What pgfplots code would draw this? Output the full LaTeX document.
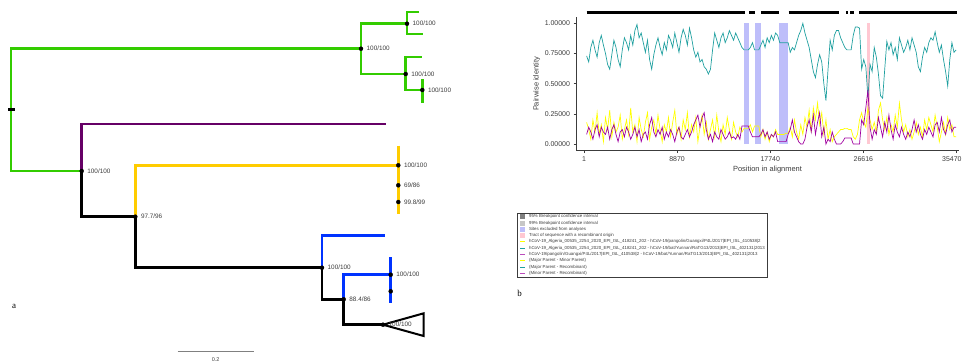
\documentclass[border=0pt]{standalone}
\usepackage{fontspec}
\setmainfont{Liberation Sans}
\newfontfamily\seriffont{Liberation Serif}
\usepackage{pgfplots}
\pgfplotsset{compat=1.18}
\usepackage{pgfplotstable}

\definecolor{tgreen}{RGB}{51,204,0}
\definecolor{tpurple}{RGB}{102,0,102}
\definecolor{tyellow}{RGB}{255,204,0}
\definecolor{tblue}{RGB}{0,51,255}
\definecolor{rteal}{RGB}{32,160,160}
\definecolor{ryellow}{RGB}{255,255,0}
\definecolor{rpurple}{RGB}{160,0,160}
\definecolor{rlav}{RGB}{190,190,250}
\definecolor{rpink}{RGB}{255,200,210}
\definecolor{txt}{RGB}{60,60,60}

\pgfplotstableread{
x t y p
250 0.73 0.18 0.08
450 0.68 0.12 0.14
650 0.80 0.04 0.10
850 0.86 0.20 0.04
1050 0.78 0.10 0.12
1250 0.72 0.26 0.16
1450 0.84 0.08 0.06
1650 0.90 0.16 0.14
1850 0.82 0.02 0.10
2050 0.75 0.22 0.08
2250 0.66 0.12 0.14
2450 0.62 0.28 0.04
2650 0.74 0.06 0.12
2850 0.86 0.18 0.16
3050 0.80 0.10 0.08
3250 0.70 0.14 0.02
3450 0.64 0.24 0.10
3650 0.78 0.04 0.12
3850 0.88 0.12 0.06
4050 0.84 0.20 0.14
4250 0.78 0.08 0.10
4450 0.90 0.30 0.04
4650 0.82 0.10 0.08
4850 0.94 0.16 0.14
5050 0.99 0.02 0.06
5250 0.88 0.22 0.12
5450 0.92 0.12 0.02
5650 0.84 0.06 0.08
5850 0.76 0.18 0.10
6050 0.86 0.26 0.04
6250 0.70 0.04 0.16
6450 0.62 0.14 0.22
6650 0.74 0.20 0.10
6850 0.82 0.08 0.06
7050 0.88 0.24 0.12
7250 0.80 0.12 0.08
7450 0.74 0.02 0.14
7650 0.84 0.16 0.04
7850 0.78 0.10 0.10
8050 0.90 0.22 0.06
8250 0.86 0.06 0.12
8450 0.80 0.18 0.08
8650 0.92 0.28 0.02
8850 0.84 0.08 0.10
9050 0.76 0.14 0.14
9250 0.88 0.04 0.06
9450 0.95 0.20 0.04
9650 0.90 0.12 0.08
9850 0.82 0.26 0.12
10050 0.96 0.06 0.06
10250 0.88 0.16 0.10
10450 0.78 0.10 0.16
10650 0.72 0.22 0.20
10850 0.76 0.02 0.24
11050 0.68 0.14 0.14
11250 0.70 0.24 0.22
11450 0.64 0.08 0.26
11650 0.62 0.18 0.12
11850 0.58 0.04 0.04
12050 0.62 0.12 0.08
12250 0.78 0.20 0.02
12450 0.92 0.06 0.10
12650 0.86 0.24 0.06
12850 0.80 0.10 0.04
13050 0.88 0.02 0.12
13250 0.92 0.16 0.08
13450 0.84 0.08 0.04
13650 0.88 0.22 0.06
13850 0.94 0.12 0.10
14050 0.90 0.04 0.05
14250 0.86 0.18 0.06
14450 0.92 0.10 0.04
14650 0.88 0.06 0.08
14850 0.84 0.14 0.04
15050 0.80 0.10 0.15
15250 0.78 0.13 0.15
15450 0.78 0.13 0.15
15650 0.78 0.13 0.15
15850 0.80 0.16 0.10
16050 0.84 0.10 0.06
16250 0.78 0.15 0.06
16450 0.78 0.15 0.06
16650 0.78 0.15 0.06
16850 0.82 0.06 0.08
17050 0.86 0.12 0.12
17250 0.80 0.04 0.06
17450 0.88 0.10 0.10
17650 0.84 0.02 0.04
17850 0.90 0.08 0.08
18050 0.86 0.06 0.06
18250 0.92 0.12 0.10
18450 0.90 0.08 0.02
18650 0.84 0.08 0.02
18850 0.84 0.08 0.02
19050 0.84 0.08 0.02
19250 0.84 0.09 0.02
19450 0.84 0.09 0.08
19650 0.76 0.14 0.12
19850 0.80 0.06 0.20
20050 0.78 0.20 0.10
20250 0.84 0.10 0.06
20450 0.90 0.04 0.02
20650 0.94 0.16 0.00
20850 1.00 0.08 0.00
21050 0.92 0.22 0.04
21250 0.86 0.14 0.14
21450 0.80 0.28 0.20
21650 0.70 0.10 0.10
21850 0.60 0.30 0.24
22050 0.55 0.20 0.08
22250 0.66 0.34 0.18
22450 0.74 0.16 0.26
22650 0.68 0.26 0.06
22850 0.50 0.08 0.14
23050 0.36 0.20 0.00
23250 0.62 0.04 0.04
23450 0.86 0.12 0.02
23650 0.78 0.02 0.10
23850 0.90 0.06 0.04
24050 0.94 0.08 0.00
24250 0.94 0.10 0.00
24450 0.88 0.12 0.00
24650 0.84 0.12 0.02
24850 0.80 0.13 0.05
25050 0.78 0.13 0.05
25250 0.78 0.12 0.05
25450 0.78 0.12 0.05
25650 0.90 0.06 0.00
25850 0.97 0.04 0.00
26050 0.97 0.08 0.00
26250 0.96 0.20 0.00
26450 0.62 0.26 0.20
26650 0.70 0.18 0.16
26850 0.64 0.14 0.30
27050 0.38 0.30 0.45
27250 0.66 0.20 0.14
27450 0.60 0.12 0.04
27650 0.80 0.18 0.12
27850 0.72 0.10 0.08
28050 0.58 0.28 0.22
28250 0.40 0.34 0.14
28450 0.38 0.20 0.06
28650 0.62 0.12 0.18
28850 0.85 0.22 0.10
29050 0.78 0.08 0.24
29250 0.84 0.16 0.12
29450 0.74 0.10 0.04
29650 0.80 0.24 0.16
29850 0.70 0.14 0.10
30050 0.88 0.34 0.06
30250 0.82 0.20 0.14
30450 0.76 0.10 0.08
30650 0.80 0.16 0.04
30850 0.86 0.06 0.10
31050 0.78 0.12 0.06
31250 0.88 0.04 0.12
31450 0.82 0.10 0.20
31650 0.76 0.18 0.10
31850 0.64 0.08 0.16
32050 0.60 0.14 0.08
32250 0.72 0.06 0.04
32450 0.80 0.20 0.12
32650 0.76 0.12 0.08
32850 0.84 0.22 0.14
33050 0.88 0.16 0.10
33250 0.86 0.10 0.06
33450 0.93 0.24 0.16
33650 0.84 0.14 0.18
33850 0.76 0.02 0.10
34050 0.82 0.10 0.22
34250 0.70 0.18 0.12
34450 0.60 0.08 0.08
34650 0.48 0.22 0.16
34850 0.70 0.12 0.20
35050 0.84 0.16 0.10
35250 0.76 0.06 0.14
35450 0.78 0.06 0.14
}\rdp

\begin{document}
\begin{tikzpicture}
\pgfplotsset{br/.style={line width=2.8bp, line join=miter, line cap=butt}}
% ---------------- panel a: tree (coordinates in pixels) ----------------
\begin{axis}[x=1bp, y=1bp, xmin=0, xmax=964, ymin=0, ymax=363, y dir=reverse,
  hide axis, clip=false, at={(0,0)}, anchor=south west]
\coordinate (BL) at (axis cs:0,363);
\coordinate (TR) at (axis cs:964,0);
\coordinate (rdp) at (axis cs:576,150.7);
% green clade
\addplot[br, tgreen] coordinates {(81.7,171)(11,171)(11,48.7)(361,48.7)};
\addplot[br, tgreen] coordinates {(407,23.7)(361,23.7)(361,74)(405.7,74)};
\addplot[br, tgreen] coordinates {(419,12)(407,12)(407,34)(423,34)};
\addplot[br, tgreen] coordinates {(421.7,57)(405.7,57)(405.7,90)(422.3,90)};
\addplot[br, tgreen] coordinates {(422.3,79)(422.3,103)};
\addplot[black, line width=2.6bp] coordinates {(8,109.3)(14.5,109.3)};
% purple
\addplot[br, tpurple] coordinates {(81.7,171)(81.7,124)(386,124)};
% yellow
\addplot[br, tyellow] coordinates {(135.3,216.7)(135.3,165.3)(398.3,165.3)};
\addplot[br, tyellow] coordinates {(398.3,145.7)(398.3,213.7)};
% blue
\addplot[br, tblue] coordinates {(322,267.7)(322,235.3)(384.7,235.3)};
\addplot[br, tblue] coordinates {(343.7,299.3)(343.7,274.7)(390.7,274.7)};
\addplot[br, tblue] coordinates {(390.7,257.3)(390.7,302.7)};
% black backbone
\addplot[br, black] coordinates {(81.7,171)(81.7,216.7)(135.3,216.7)};
\addplot[br, black] coordinates {(135.3,216.7)(135.3,267.7)(322,267.7)};
\addplot[br, black] coordinates {(322,267.7)(322,299.3)(343.7,299.3)};
\addplot[br, black] coordinates {(343.7,299.3)(343.7,324.7)(383,324.7)};
\addplot[black, line width=2bp, line join=miter] coordinates {(383,324.7)(423.7,313.3)(423.7,336)(383,324.7)};
% node dots and support values
\addplot[only marks, mark=*, mark size=2bp, black,
  nodes near coords, point meta=explicit symbolic,
  nodes near coords style={anchor=west, inner sep=0pt, xshift=5.5bp,
    font=\fontsize{6.4}{7}\selectfont, text=txt}]
  table[col sep=comma, meta=lab] {
x,y,lab
361,48.7,100/100
407,23.7,100/100
405.7,74,100/100
422.3,90,100/100
81.7,171,100/100
398.3,165.3,100/100
398.3,185.3,69/86
398.3,202,99.8/99
135.3,216.7,97.7/96
322,267.7,100/100
343.7,299.3,88.4/86
390.7,274.7,100/100
383,324.7,100/100
};
\addplot[only marks, mark=*, mark size=2bp, black] coordinates {(390.7,291.3)};
% scale bar
\addplot[gray, line width=0.6bp] coordinates {(177.7,351.3)(254,351.3)};
\node[font=\fontsize{5.5}{6}\selectfont, text=txt] at (axis cs:215.7,359.2) {0.2};
\node[font=\seriffont\fontsize{9}{10}\selectfont] at (axis cs:14,306) {a};
\node[font=\seriffont\fontsize{9}{10}\selectfont] at (axis cs:519.5,293) {b};
\end{axis}
% ---------------- panel b: RDP plot ----------------
\begin{axis}[at={(rdp)}, anchor=south west, scale only axis,
  width=383bp, height=133.4bp,
  xmin=-761, xmax=35727, ymin=-0.055, ymax=1.05,
  axis lines=left, axis line style={txt, line width=0.6bp, -},
  tick align=outside, major tick length=2.5bp,
  tick style={txt, line width=0.5bp},
  scaled x ticks=false, scaled y ticks=false,
  xtick={1,8870,17740,26616,35470},
  xticklabels={1,8870,17740,26616,\hspace{-9bp}35470},
  ytick={0,0.25,0.5,0.75,1},
  yticklabels={0.00000,0.25000,0.50000,0.75000,1.00000},
  ticklabel style={font=\fontsize{7}{8}\selectfont, text=txt},
  xlabel={Position in alignment}, ylabel={Pairwise identity},
  label style={font=\fontsize{7.5}{8}\selectfont, text=txt},
  xlabel style={at={(axis description cs:0.5,-0.142)}, anchor=center},
  ylabel style={at={(axis description cs:-0.1026,0.5)}, anchor=center},
  clip=false,
  legend cell align=left,
  legend style={at={(rel axis cs:-0.154,-0.465)}, anchor=north west,
    draw=txt, line width=0.5bp, font=\fontsize{4.4}{5}\selectfont, text=txt,
    inner xsep=2.5bp, inner ysep=1.5bp, row sep=2bp,
    nodes={inner sep=0pt, text height=3.3bp, text depth=1bp},
    /tikz/every odd column/.append style={column sep=4bp}},
]
% excluded sites and recombinant tract
\addplot[fill=rlav, draw=none, forget plot] coordinates {(15270,0)(15690,0)(15690,1.005)(15270,1.005)} -- cycle;
\addplot[fill=rlav, draw=none, forget plot] coordinates {(16320,0)(16830,0)(16830,1.005)(16320,1.005)} -- cycle;
\addplot[fill=rlav, draw=none, forget plot] coordinates {(18610,0)(19470,0)(19470,1.005)(18610,1.005)} -- cycle;
\addplot[fill=rpink, draw=none, forget plot] coordinates {(26930,0)(27250,0)(27250,1.005)(26930,1.005)} -- cycle;
% informative-site bar
\addplot[black, line width=2.6bp, unbounded coords=jump, forget plot] coordinates {
(258,1.088)(15340,1.088)(15500,nan)
(15750,1.088)(16320,1.088)(16500,nan)
(16860,1.088)(18610,1.088)(19000,nan)
(19500,1.088)(24330,1.088)(24600,nan)
(24960,1.088)(25120,1.088)(25200,nan)
(25350,1.088)(25760,1.088)(26000,nan)
(26230,1.088)(35510,1.088)};
% series
\addplot[rteal, line width=0.7bp, forget plot] table[x=x, y=t] {\rdp};
\addplot[ryellow, line width=0.7bp, forget plot] table[x=x, y=y] {\rdp};
\addplot[rpurple, line width=0.7bp, forget plot] table[x=x, y=p] {\rdp};
% legend
\addlegendimage{legend image code/.code={\fill[gray] (0bp,-1.9bp) rectangle (3.8bp,1.9bp);}}
\addlegendentry{95\% Breakpoint confidence interval}
\addlegendimage{legend image code/.code={\fill[gray!45] (0bp,-1.9bp) rectangle (3.8bp,1.9bp);}}
\addlegendentry{99\% Breakpoint confidence interval}
\addlegendimage{legend image code/.code={\fill[rlav] (0bp,-1.9bp) rectangle (3.8bp,1.9bp);}}
\addlegendentry{Sites excluded from analyses}
\addlegendimage{legend image code/.code={\fill[rpink] (0bp,-1.9bp) rectangle (3.8bp,1.9bp);}}
\addlegendentry{Tract of sequence with a recombinant origin}
\addlegendimage{legend image code/.code={\draw[ryellow, line width=0.8bp] (0bp,0bp) -- (4.5bp,0bp);}}
\addlegendentry{hCoV-19\_Algeria\_00535\_2254\_2020\_EPI\_ISL\_418241\_202 - hCoV-19/pangolin/Guangxi/P4L/2017|EPI\_ISL\_410538|2}
\addlegendimage{legend image code/.code={\draw[rteal, line width=0.8bp] (0bp,0bp) -- (4.5bp,0bp);}}
\addlegendentry{hCoV-19\_Algeria\_00535\_2254\_2020\_EPI\_ISL\_418241\_202 - hCoV-19/bat/Yunnan/RaTG13/2013|EPI\_ISL\_402131|2013}
\addlegendimage{legend image code/.code={\draw[rpurple!70, line width=0.8bp] (0bp,0bp) -- (4.5bp,0bp);}}
\addlegendentry{hCoV-19/pangolin/Guangxi/P4L/2017|EPI\_ISL\_410538|2 - hCoV-19/bat/Yunnan/RaTG13/2013|EPI\_ISL\_402131|2013}
\addlegendimage{legend image code/.code={\draw[ryellow, line width=0.8bp] (0bp,0bp) -- (4.5bp,0bp);}}
\addlegendentry{(Major Parent - Minor Parent)}
\addlegendimage{legend image code/.code={\draw[rteal, line width=0.8bp] (0bp,0bp) -- (4.5bp,0bp);}}
\addlegendentry{(Major Parent - Recombinant)}
\addlegendimage{legend image code/.code={\draw[rpurple!70, line width=0.8bp] (0bp,0bp) -- (4.5bp,0bp);}}
\addlegendentry{(Minor Parent - Recombinant)}
\end{axis}
\pgfresetboundingbox
\path[use as bounding box] (BL) rectangle (TR);
\end{tikzpicture}
\end{document}
